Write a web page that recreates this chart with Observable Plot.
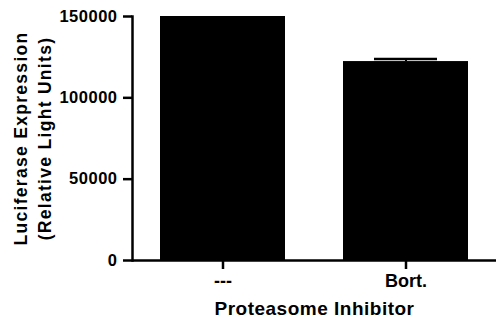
<!DOCTYPE html>
<html><head><meta charset="utf-8">
<script src="https://cdn.jsdelivr.net/npm/d3@7"></script>
<script src="https://cdn.jsdelivr.net/npm/@observablehq/plot@0.6"></script>
<style>
body{margin:0;background:#fff}
</style></head><body><div id="chart"></div>
<script>
const categories = ["---", "Bort."];
const values = [150000, 122300];
const errors = [0, 1500];
const yTicks = [0, 50000, 100000, 150000];
const xTitle = "Proteasome Inhibitor";
const yTitle = "Luciferase Expression\n(Relative Light Units)";

const data = categories.map((c, i) => ({category: c, value: values[i], err: errors[i]}));
const errData = data.filter(d => d.err > 0);

const plot = Plot.plot({
  width: 496, height: 320,
  marginTop: 16, marginBottom: 60, marginLeft: 132, marginRight: 0,
  style: {fontFamily: "'Liberation Sans', Arial, sans-serif", fontWeight: "bold", color: "black", background: "white", overflow: "visible"},
  x: {domain: categories, paddingInner: 0.315, paddingOuter: 0.147},
  y: {domain: [0, 150000]},
  marks: [
    Plot.barY(data, {x: "category", y: "value", fill: "black"}),
    Plot.ruleX(errData, {x: "category", y1: "value", y2: d => d.value + d.err, stroke: "black", strokeWidth: 2}),
    Plot.tickY(errData, {x: "category", y: d => d.value + d.err, stroke: "black", strokeWidth: 2.5, insetLeft: 31, insetRight: 31}),
    Plot.axisY({ticks: yTicks, tickFormat: d => String(d), tickSize: 9, tickPadding: 6, strokeWidth: 2.5, fontSize: 16.5, label: null}),
    Plot.axisX({tickSize: 9, tickPadding: 5, strokeWidth: 2.5, fontSize: 18, label: null}),
    Plot.ruleY([0], {strokeWidth: 2.5}),
    Plot.frame({anchor: "left", strokeWidth: 2.5}),
    Plot.text([xTitle], {text: d => d, frameAnchor: "bottom", textAnchor: "middle", lineAnchor: "middle", dy: 48, fontSize: 19}),
    Plot.text([yTitle], {text: d => d, frameAnchor: "left", textAnchor: "middle", lineAnchor: "middle", rotate: -90, dx: -101, fontSize: 17.5, lineHeight: 1.35})
  ]
});
document.getElementById("chart").appendChild(plot);
d3.select(plot).selectAll("text").each(function() {
  const t = this.textContent;
  if (/^\d+$/.test(t)) this.style.letterSpacing = "0.5px";
  else if (t.startsWith("Proteasome")) this.style.letterSpacing = "0.5px";
  else if (t.startsWith("Luciferase") || t.startsWith("(Relative")) this.style.letterSpacing = "1.3px";
});
</script></body></html>
